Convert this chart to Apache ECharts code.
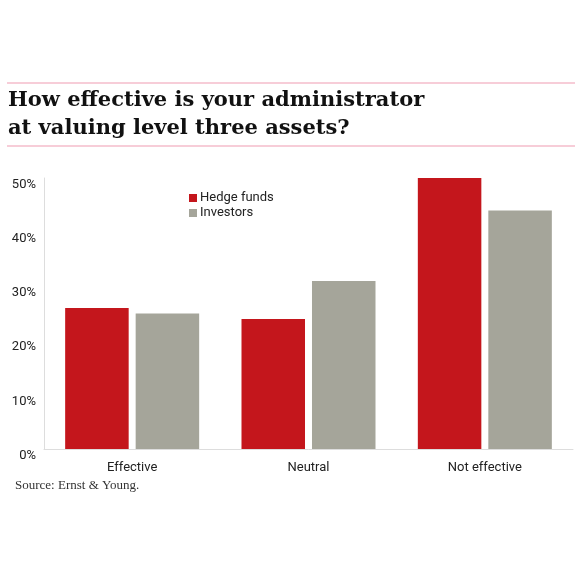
<!DOCTYPE html>
<html>
<head>
<meta charset="utf-8">
<script src="https://cdn.jsdelivr.net/npm/echarts@6/dist/echarts.min.js"></script>
<style>
html,body{margin:0;padding:0;background:#fff;}
#c{width:580px;height:580px;}
</style>
</head>
<body>
<div id="c"></div>
<script>
const titleText = 'How effective is your administrator\nat valuing level three assets?';
const sourceText = 'Source: Ernst & Young.';
const categories = ['Effective', 'Neutral', 'Not effective'];
const seriesNames = ['Hedge funds', 'Investors'];
const hedgeFunds = [26, 24, 50];
const investors = [25, 31, 44];
const yTicks = { min: 0, max: 50, interval: 10 };

const sans = "Roboto, 'Liberation Sans', sans-serif";
const serif = "'DejaVu Serif', 'Liberation Serif', serif";
const serif2 = "'Liberation Serif', 'Times New Roman', serif";
const RED = '#c4161c';
const GREY = '#a5a59a';
const PINK = '#f4bccb';

const chart = echarts.init(document.getElementById('c'), null, { renderer: 'canvas' });
chart.setOption({
  backgroundColor: '#ffffff',
  animation: false,
  title: {
    text: titleText,
    left: 8,
    top: 87,
    padding: 0,
    textStyle: { fontFamily: serif, fontWeight: 'bold', fontSize: 21, lineHeight: 28, color: '#111' }
  },
  graphic: [
    { type: 'line', shape: { x1: 7, y1: 83, x2: 575, y2: 83 }, style: { stroke: PINK, lineWidth: 1.5 } },
    { type: 'line', shape: { x1: 7, y1: 146, x2: 575, y2: 146 }, style: { stroke: PINK, lineWidth: 1.5 } },
    { type: 'text', left: 15, top: 479, style: { text: sourceText, font: "13px " + serif2, fill: '#333' } }
  ],
  legend: {
    orient: 'vertical',
    left: 189,
    top: 191,
    itemWidth: 8,
    itemHeight: 8,
    itemGap: 1,
    icon: 'rect',
    padding: 0,
    textStyle: { fontFamily: sans, fontSize: 13, color: '#222', lineHeight: 14, padding: [0, 0, 0, -2] },
    data: seriesNames
  },
  grid: { left: 44, right: 7, top: 178, bottom: 131, containLabel: false },
  xAxis: {
    type: 'category',
    data: categories,
    axisLine: { lineStyle: { color: '#dddddd', width: 1 } },
    axisTick: { show: false },
    axisLabel: { fontFamily: sans, fontSize: 13, color: '#222', margin: 12 }
  },
  yAxis: {
    type: 'value',
    min: yTicks.min,
    max: yTicks.max,
    interval: yTicks.interval,
    axisLine: { show: true, lineStyle: { color: '#dddddd', width: 1 } },
    axisTick: { show: false },
    splitLine: { show: false },
    axisLabel: { fontFamily: sans, fontSize: 13, color: '#222', margin: 8, formatter: '{value}%', verticalAlign: 'top' }
  },
  series: [
    { name: seriesNames[0], type: 'bar', data: hedgeFunds, itemStyle: { color: RED }, barGap: '11%', barCategoryGap: '24%' },
    { name: seriesNames[1], type: 'bar', data: investors, itemStyle: { color: GREY }, barGap: '11%', barCategoryGap: '24%' }
  ]
});
</script>
</body>
</html>
